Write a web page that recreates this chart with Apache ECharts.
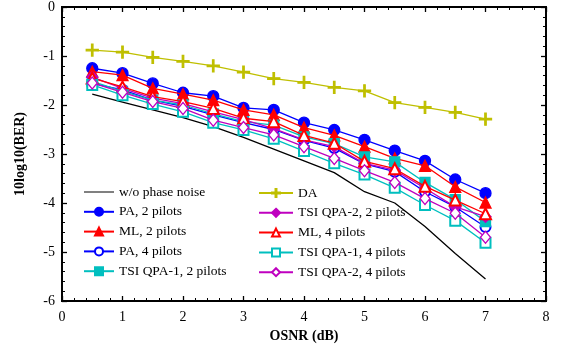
<!DOCTYPE html>
<html><head><meta charset="utf-8">
<script src="https://cdn.jsdelivr.net/npm/echarts@6/dist/echarts.min.js"></script>
<style>html,body{margin:0;padding:0;background:#fff}#c{width:561px;height:354px}</style>
</head><body><div id="c"></div>
<script>
const osnr = [0.5,1,1.5,2,2.5,3,3.5,4,4.5,5,5.5,6,6.5,7];
const noPN   = [-1.78,-1.94,-2.10,-2.26,-2.44,-2.66,-2.90,-3.14,-3.38,-3.77,-4.00,-4.48,-5.03,-5.55];
const pa2    = [-1.25,-1.35,-1.56,-1.75,-1.82,-2.06,-2.10,-2.36,-2.51,-2.71,-2.93,-3.14,-3.52,-3.80];
const ml2    = [-1.32,-1.39,-1.66,-1.78,-1.90,-2.10,-2.20,-2.46,-2.62,-2.85,-3.09,-3.24,-3.67,-3.99];
const pa4    = [-1.56,-1.69,-1.90,-2.03,-2.20,-2.36,-2.50,-2.72,-2.88,-3.20,-3.36,-3.77,-4.08,-4.49];
const qpa1_2 = [-1.52,-1.72,-1.90,-2.00,-2.18,-2.34,-2.41,-2.65,-2.79,-3.06,-3.16,-3.58,-3.93,-4.38];
const da     = [-0.88,-0.92,-1.03,-1.11,-1.20,-1.33,-1.46,-1.54,-1.64,-1.71,-1.95,-2.05,-2.15,-2.29];
const qpa2_2 = [-1.43,-1.66,-1.86,-1.97,-2.14,-2.30,-2.48,-2.71,-2.85,-3.19,-3.33,-3.70,-4.08,-4.28];
const ml4    = [-1.45,-1.63,-1.83,-1.93,-2.07,-2.27,-2.34,-2.62,-2.78,-3.15,-3.30,-3.66,-3.94,-4.22];
const qpa1_4 = [-1.59,-1.80,-1.98,-2.14,-2.36,-2.51,-2.69,-2.94,-3.19,-3.42,-3.69,-4.04,-4.36,-4.81];
const qpa2_4 = [-1.55,-1.74,-1.93,-2.07,-2.31,-2.46,-2.61,-2.85,-3.09,-3.34,-3.58,-3.91,-4.21,-4.70];
const xTicks = [0,1,2,3,4,5,6,7,8];
const yTicks = [0,-1,-2,-3,-4,-5,-6];

const names = ['w/o phase noise','PA, 2 pilots','ML, 2 pilots','PA, 4 pilots','TSI QPA-1, 2 pilots',
               'DA','TSI QPA-2, 2 pilots','ML, 4 pilots','TSI QPA-1, 4 pilots','TSI QPA-2, 4 pilots'];
const plus = 'path://M4.4,0H5.6V4.4H10V5.6H5.6V10H4.4V5.6H0V4.4H4.4Z';
const diamond = 'path://M5,0L10,5L5,10L0,5Z';
const sets = [
  {d:noPN, c:'#000000', s:'none'},
  {d:pa2, c:'#0000ff', s:'circle', sz:11},
  {d:ml2, c:'#ff0000', s:'triangle', sz:11},
  {d:pa4, c:'#0000ff', s:'emptyCircle', sz:10},
  {d:qpa1_2, c:'#00bfbf', s:'rect', sz:10},
  {d:da, c:'#bfbf00', s:plus, sz:12},
  {d:qpa2_2, c:'#bf00bf', s:diamond, sz:11},
  {d:ml4, c:'#ff0000', s:'emptyTriangle', sz:11},
  {d:qpa1_4, c:'#00bfbf', s:'emptyRect', sz:10},
  {d:qpa2_4, c:'#bf00bf', s:diamond, sz:[10,12], open:true}
];
const series = sets.map((o,i)=>({
  name: names[i], type:'line', data: osnr.map((x,k)=>[x,o.d[k]]),
  symbol: o.s, symbolSize: o.sz || 8, showSymbol: o.s!=='none',
  lineStyle:{color:o.c, width:1.3},
  itemStyle: o.open ? {color:'#ffffff', borderColor:o.c, borderWidth:1.3} : {color:o.c, borderColor:o.c, borderWidth:1.3},
  emphasis:{disabled:true}, xAxisIndex:0, yAxisIndex:0, z: 2+i
}));
series.push({type:'line', data:[], xAxisIndex:1, yAxisIndex:1, silent:true});

const leftItems = names.slice(0,5).map((n,i)=> i===0 ? {name:n, icon:'path://M0,0H30V1H0Z', itemStyle:{color:'#000', borderWidth:0}} : {name:n});

const font = 'Liberation Serif, Times New Roman, serif';
function axisCommon(){ return {
  axisLine:{show:true, onZero:false, lineStyle:{color:'#000', width:1.8}},
  axisTick:{show:true, inside:true, length:5, lineStyle:{color:'#000', width:1.3}},
  minorTick:{show:true, splitNumber:5, length:3, lineStyle:{color:'#000', width:1}},
  splitLine:{show:false}
};}
function legendCommon(){ return {orient:'vertical', itemWidth:30, itemHeight:10, itemGap:5.8, padding:0,
  textStyle:{fontFamily:font, fontSize:13.5, color:'#000'}, selectedMode:false};}
const chart = echarts.init(document.getElementById('c'), null, {renderer:'canvas'});
chart.setOption({
  animation:false, backgroundColor:'#fff',
  grid:{left:62, right:15, top:7, bottom:53, show:true, borderColor:'#000', borderWidth:1.8},
  legend:[
    Object.assign(legendCommon(), {left:83, top:185, data:leftItems}),
    Object.assign(legendCommon(), {left:258, top:186, itemWidth:34, data:names.slice(5)})
  ],
  xAxis:[
    Object.assign(axisCommon(), {type:'value', min:xTicks[0], max:xTicks[xTicks.length-1], interval:1, position:'bottom',
      name:'OSNR (dB)', nameLocation:'middle', nameGap:27,
      nameTextStyle:{fontFamily:font, fontSize:14, fontWeight:'bold', color:'#000'},
      axisLabel:{fontFamily:font, fontSize:14, color:'#000', margin:9}}),
    Object.assign(axisCommon(), {type:'value', min:xTicks[0], max:xTicks[xTicks.length-1], interval:1, position:'top',
      axisLabel:{show:false}})
  ],
  yAxis:[
    Object.assign(axisCommon(), {type:'value', min:yTicks[yTicks.length-1], max:yTicks[0], interval:1, position:'left',
      name:'10log10(BER)', nameLocation:'middle', nameGap:35, nameRotate:90,
      nameTextStyle:{fontFamily:font, fontSize:14, fontWeight:'bold', color:'#000'},
      axisLabel:{fontFamily:font, fontSize:14, color:'#000', margin:7}}),
    Object.assign(axisCommon(), {type:'value', min:yTicks[yTicks.length-1], max:yTicks[0], interval:1, position:'right',
      axisLabel:{show:false}})
  ],
  series: series
});
</script></body></html>
